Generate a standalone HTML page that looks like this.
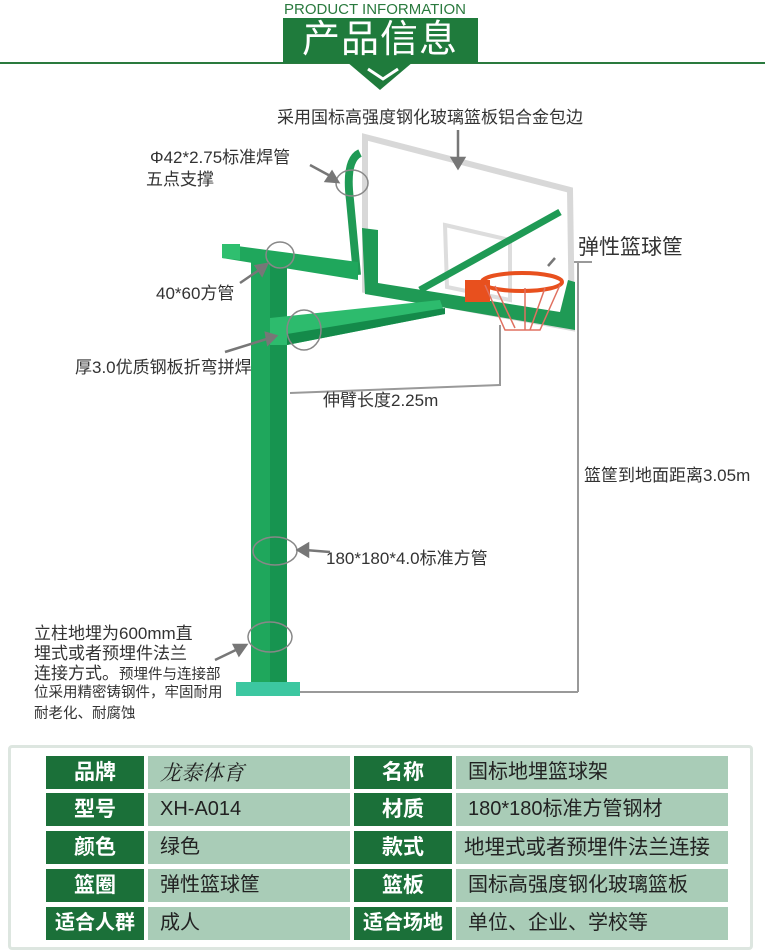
<!DOCTYPE html>
<html><head><meta charset="utf-8"><style>
body{margin:0;width:765px;height:946px;background:#fff;position:relative;overflow:hidden;font-family:"Liberation Sans","Noto Sans CJK SC",sans-serif}
.t{position:absolute;color:#333;font-size:17px;white-space:nowrap;line-height:1.2}
.frame{position:absolute;left:8px;top:745px;width:745px;height:205px;border:3px solid #dde6e0;border-radius:4px;box-sizing:border-box}
.c{position:absolute;height:33px;line-height:33px;font-size:20px;box-sizing:border-box;white-space:nowrap;overflow:hidden}
.l{background:#1b7039;color:#fff;font-weight:bold;text-align:center;font-size:21px}
.v{background:#a9ccb7;color:#222;padding-left:12px}
</style></head><body>
<div class="t" style="left:284px;top:1px;font-size:15px;color:#2a7a3e">PRODUCT INFORMATION</div>
<div style="position:absolute;left:0;top:62px;width:765px;height:2px;background:#2a7a3e"></div>
<div style="position:absolute;left:283px;top:18px;width:195px;height:45px;background:#1f7b3c"></div>
<div style="position:absolute;left:347px;top:62px;width:0;height:0;border-left:33px solid transparent;border-right:33px solid transparent;border-top:28px solid #1f7b3c"></div>
<div class="t" style="left:302px;top:18px;font-size:38px;color:#fff;letter-spacing:1px">产品信息</div>
<svg style="position:absolute;left:365px;top:66px" width="36" height="16"><polyline points="3,3 18,13 33,3" fill="none" stroke="#fff" stroke-width="3"/></svg>

<svg style="position:absolute;left:0;top:0" width="765" height="740">
<g stroke="#999" stroke-width="2" fill="none">
<line x1="290" y1="393" x2="500" y2="385"/>
<line x1="500" y1="325" x2="500" y2="386"/>
<line x1="578" y1="262" x2="578" y2="692"/>
<line x1="555" y1="262" x2="592" y2="262"/>
<line x1="300" y1="692" x2="578" y2="692"/>
</g>
<polygon points="365,137 570,190 572,328 365,290" fill="#fff" stroke="#d8d8d8" stroke-width="6"/>
<polygon points="445,225 510,240 510,300 447,287" fill="none" stroke="#ddd" stroke-width="4"/>
<path d="M360,153 Q345,160 350,200 L357,275" fill="none" stroke="#1f9a55" stroke-width="8"/>
<line x1="420" y1="290" x2="560" y2="212" stroke="#1f9a55" stroke-width="7"/>
<path d="M362,228 L378,230 L378,283 L560,312 L568,280 L575,282 L575,330 L365,294 Z" fill="#1f9a55"/>
<rect x="251" y="255" width="36" height="430" fill="#1fa75c"/>
<rect x="270" y="255" width="17" height="430" fill="#179450"/>
<polygon points="236,682 300,682 300,696 236,696" fill="#3cc7a0"/>
<polygon points="222,244 358,262 358,280 222,258" fill="#1fa75c"/>
<polygon points="222,244 240,244 240,260 222,258" fill="#2fbf6f"/>
<polygon points="270,318 440,300 445,314 287,345 270,345" fill="#2dbb6d"/>
<polygon points="287,334 445,308 445,314 287,345" fill="#148a4a"/>
<rect x="465" y="280" width="25" height="22" fill="#e8501e"/>
<ellipse cx="522" cy="282" rx="40" ry="9" fill="none" stroke="#e8501e" stroke-width="4"/>
<path d="M485,285 L505,330 L540,330 L560,285 M495,286 L515,328 M525,288 L525,330 M545,288 L530,330" fill="none" stroke="#e07060" stroke-width="1.5"/>
<g fill="none" stroke="#888" stroke-width="1.5">
<ellipse cx="352" cy="183" rx="16" ry="13"/>
<ellipse cx="280" cy="255" rx="14" ry="13"/>
<ellipse cx="304" cy="330" rx="17" ry="20"/>
<ellipse cx="275" cy="551" rx="22" ry="14"/>
<ellipse cx="270" cy="637" rx="22" ry="15"/>
</g>
<g stroke="#777" stroke-width="2.5" fill="#777">
<line x1="458" y1="130" x2="458" y2="162"/><polygon points="452,158 464,158 458,168"/>
<line x1="310" y1="165" x2="334" y2="178"/><polygon points="338,182 326,181 332,172"/>
<line x1="240" y1="283" x2="262" y2="268"/><polygon points="267,264 262,275 256,266"/>
<line x1="225" y1="352" x2="270" y2="338"/><polygon points="276,336 268,344 266,333"/>
<line x1="330" y1="552" x2="305" y2="550"/><polygon points="298,550 308,544 308,556"/>
<line x1="215" y1="660" x2="240" y2="648"/><polygon points="246,645 239,655 234,645"/>
<line x1="555" y1="258" x2="548" y2="266"/>
</g>
</svg>

<div class="t" style="left:277px;top:108px">采用国标高强度钢化玻璃篮板铝合金包边</div>
<div class="t" style="left:150px;top:148px">Φ42*2.75标准焊管</div>
<div class="t" style="left:146px;top:170px">五点支撑</div>
<div class="t" style="left:578px;top:235px;font-size:21px">弹性篮球筐</div>
<div class="t" style="left:156px;top:284px">40*60方管</div>
<div class="t" style="left:75px;top:358px">厚3.0优质钢板折弯拼焊</div>
<div class="t" style="left:323px;top:391px">伸臂长度2.25m</div>
<div class="t" style="left:584px;top:466px">篮筐到地面距离3.05m</div>
<div class="t" style="left:326px;top:549px">180*180*4.0标准方管</div>
<div class="t" style="left:34px;top:624px;font-size:17px;line-height:20px">立柱地埋为600mm直<br>埋式或者预埋件法兰<br>连接方式。<span style="font-size:14.5px">预埋件与连接部</span></div>
<div class="t" style="left:34px;top:683px;font-size:14.5px;line-height:21px">位采用精密铸钢件，牢固耐用<br>耐老化、耐腐蚀</div>

<div class="frame"></div>
<div class="c l" style="left:46px;top:756px;width:98px">品牌</div>
<div class="c v" style="left:148px;top:756px;width:202px;font-family:'Noto Serif CJK SC',serif;font-style:italic;font-size:21px">龙泰体育</div>
<div class="c l" style="left:354px;top:756px;width:98px">名称</div>
<div class="c v" style="left:456px;top:756px;width:272px">国标地埋篮球架</div>
<div class="c l" style="left:46px;top:793px;width:98px">型号</div>
<div class="c v" style="left:148px;top:793px;width:202px">XH-A014</div>
<div class="c l" style="left:354px;top:793px;width:98px">材质</div>
<div class="c v" style="left:456px;top:793px;width:272px">180*180标准方管钢材</div>
<div class="c l" style="left:46px;top:831px;width:98px">颜色</div>
<div class="c v" style="left:148px;top:831px;width:202px">绿色</div>
<div class="c l" style="left:354px;top:831px;width:98px">款式</div>
<div class="c v" style="left:456px;top:831px;width:272px;padding-left:8px;font-size:20.5px">地埋式或者预埋件法兰连接</div>
<div class="c l" style="left:46px;top:869px;width:98px">篮圈</div>
<div class="c v" style="left:148px;top:869px;width:202px">弹性篮球筐</div>
<div class="c l" style="left:354px;top:869px;width:98px">篮板</div>
<div class="c v" style="left:456px;top:869px;width:272px">国标高强度钢化玻璃篮板</div>
<div class="c l" style="left:46px;top:907px;width:98px;font-size:20px">适合人群</div>
<div class="c v" style="left:148px;top:907px;width:202px">成人</div>
<div class="c l" style="left:354px;top:907px;width:98px;font-size:20px">适合场地</div>
<div class="c v" style="left:456px;top:907px;width:272px">单位、企业、学校等</div>
</body></html>
